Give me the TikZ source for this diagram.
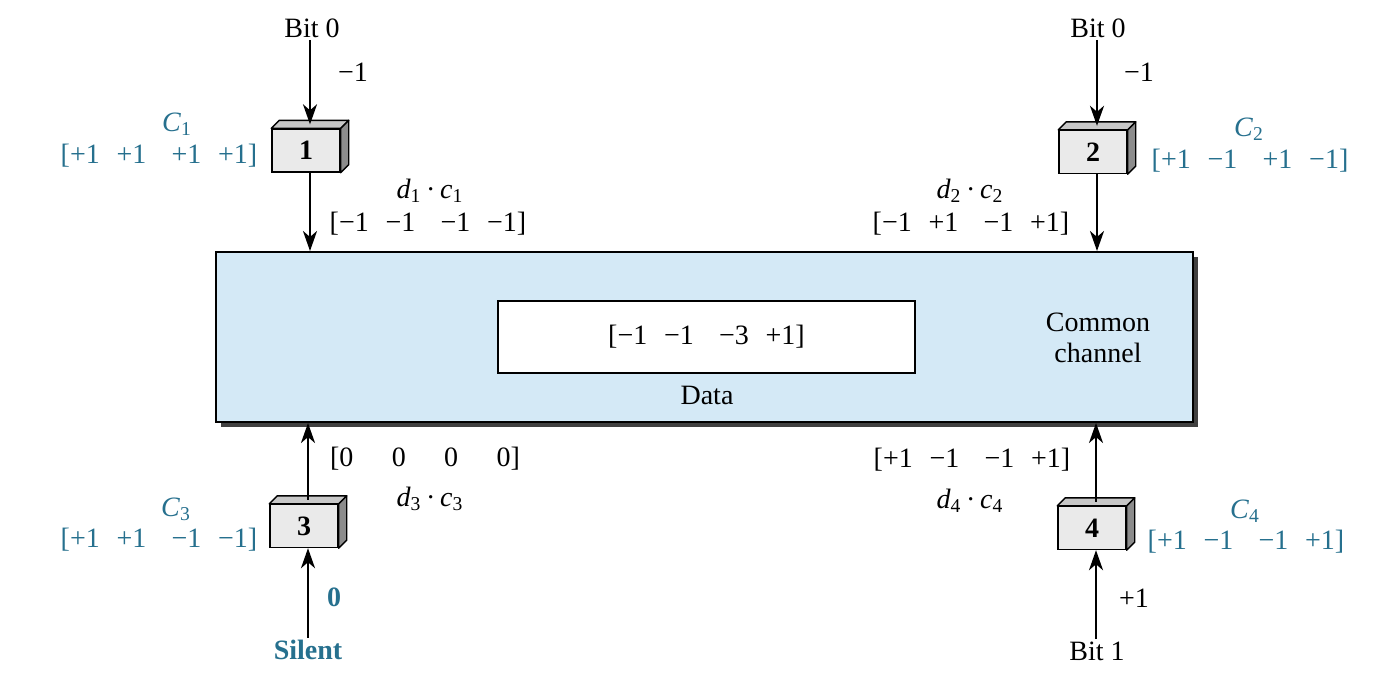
\documentclass[tikz,border=0pt]{standalone}
\usepackage{fontspec}
\setmainfont{Liberation Serif}
\usetikzlibrary{arrows.meta,shadows,calc}
\definecolor{cblue}{RGB}{38,112,142}
\definecolor{chblue}{RGB}{212,233,246}
\definecolor{boxfront}{RGB}{234,234,234}
\definecolor{boxtop}{RGB}{200,200,200}
\definecolor{boxside}{RGB}{140,140,140}
\newcommand\cv[4]{[#1\hspace{0.6em}#2\hspace{0.9em}#3\hspace{0.6em}#4]}
\newcommand\dc[1]{\textit{d}\textsubscript{#1}\,·\,\textit{c}\textsubscript{#1}}
\newcommand\cubefaces[1]{%
  \draw[fill=boxtop,line width=0.7pt,line join=round] (#1.north west) -- ++(4pt,4pt) -- ([shift={(4pt,4pt)}]#1.north east) -- (#1.north east) -- cycle;
  \draw[fill=boxside,line width=0.7pt,line join=round] (#1.north east) -- ++(4pt,4pt) -- ([shift={(4pt,4pt)}]#1.south east) -- (#1.south east) -- cycle;}
\tikzset{
  lbl/.style={font=\fontsize{14}{15.5}\selectfont, inner sep=1pt},
  blbl/.style={lbl, text=cblue},
  cube/.style={draw, fill=boxfront, line width=0.7pt, minimum width=34pt, minimum height=21.5pt, inner sep=0pt, font=\fontsize{14}{15.5}\selectfont\bfseries},
  arr/.style={-{Stealth[length=10pt,width=7pt,inset=3pt]}, line width=1.2pt}
}
\begin{document}
\begin{tikzpicture}[x=0.5pt,y=-0.5pt]
\useasboundingbox[fill=white] (0,0) rectangle (1376,676);
% common channel
\node[draw, line width=1pt, fill=chblue, minimum width=488.5pt, minimum height=85pt, inner sep=0pt,
      drop shadow={shadow xshift=2.5pt, shadow yshift=-2.5pt, fill=black!75, opacity=1}] (ch) at (704.5,337) {};
\node[draw, line width=0.8pt, fill=white, minimum width=208.5pt, minimum height=36pt, inner sep=0pt, lbl] (data) at (706.5,337) {\cv{−1}{−1}{−3}{+1}};
\node[lbl] (datalbl) at (707,395) {Data};
\node[lbl, align=center] (cc) at (1098,338) {Common\\channel};
% station 1
\node[lbl] (t1) at (312,28) {Bit 0};
\node[lbl] (m1) at (353,72) {−1};
\node[cube] (b1) at (306,150.5) {1};
\cubefaces{b1}
\coordinate (b1t) at ([shift={(2pt,2pt)}]b1.north);
\node[blbl] (c1) at (177,124) {\textit{C}\textsubscript{1}};
\node[blbl] (v1) at (159,156) {\cv{+1}{+1}{+1}{+1}};
\node[lbl] (dc1) at (430,191) {\dc{1}};
\node[lbl] (p1) at (428,224) {\cv{−1}{−1}{−1}{−1}};
\draw[arr] (t1.south -| b1t) -- (b1t);
\draw[arr] (b1.south -| b1t) -- (b1t |- ch.north);
% station 2
\node[lbl] (t2) at (1098,28) {Bit 0};
\node[lbl] (m2) at (1139,72) {−1};
\node[cube] (b2) at (1093,152) {2};
\cubefaces{b2}
\coordinate (b2t) at ([shift={(2pt,2pt)}]b2.north);
\node[blbl] (c2) at (1249,129) {\textit{C}\textsubscript{2}};
\node[blbl] (v2) at (1250,161) {\cv{+1}{−1}{+1}{−1}};
\node[lbl] (dc2) at (970,191) {\dc{2}};
\node[lbl] (p2) at (971,224) {\cv{−1}{+1}{−1}{+1}};
\draw[arr] (t2.south -| b2t) -- (b2t);
\draw[arr] (b2.south -| b2t) -- (b2t |- ch.north);
% station 3
\node[cube] (b3) at (304,526) {3};
\cubefaces{b3}
\coordinate (b3t) at ([shift={(2pt,2pt)}]b3.north);
\node[blbl] (c3) at (176,509) {\textit{C}\textsubscript{3}};
\node[blbl] (v3) at (159,540) {\cv{+1}{+1}{−1}{−1}};
\node[lbl] (p3) at (425,459) {[0\hspace{1.37em}0\hspace{1.37em}0\hspace{1.37em}0]};
\node[lbl] (dc3) at (430,499) {\dc{3}};
\node[blbl, font=\fontsize{14}{15.5}\selectfont\bfseries] (s3) at (308,650) {Silent};
\node[blbl, font=\fontsize{14}{15.5}\selectfont\bfseries] (z3) at (334,597) {0};
\draw[arr] (s3.north -| b3t) -- (b3.south -| b3t);
\draw[arr] (b3t) -- (b3t |- ch.south);
% station 4
\node[cube] (b4) at (1092,528) {4};
\cubefaces{b4}
\coordinate (b4t) at ([shift={(2pt,2pt)}]b4.north);
\node[blbl] (c4) at (1245,511) {\textit{C}\textsubscript{4}};
\node[blbl] (v4) at (1246,542) {\cv{+1}{−1}{−1}{+1}};
\node[lbl] (p4) at (972,460) {\cv{+1}{−1}{−1}{+1}};
\node[lbl] (dc4) at (970,501) {\dc{4}};
\node[lbl] (s4) at (1097,651) {Bit 1};
\node[lbl] (z4) at (1134,598) {+1};
\draw[arr] (s4.north -| b4t) -- (b4.south -| b4t);
\draw[arr] (b4t) -- (b4t |- ch.south);
\end{tikzpicture}
\end{document}
